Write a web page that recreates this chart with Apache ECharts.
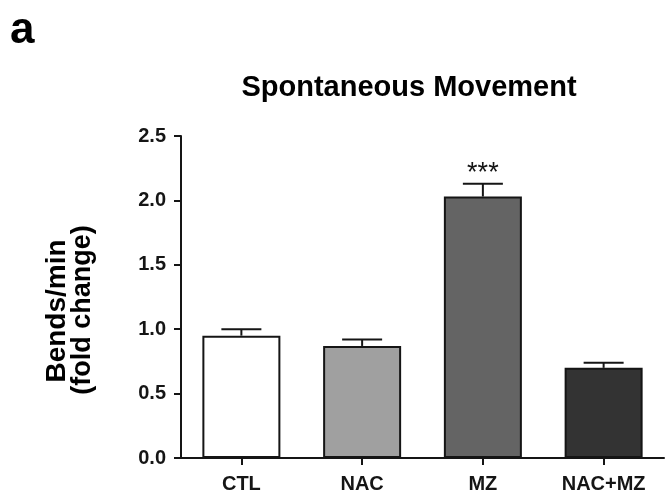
<!DOCTYPE html>
<html>
<head>
<meta charset="utf-8">
<script src="https://cdn.jsdelivr.net/npm/echarts@6/dist/echarts.min.js"></script>
<style>
  html, body { margin: 0; padding: 0; background: #ffffff; }
  #chart { width: 665px; height: 490px; }
</style>
</head>
<body>
<div id="chart"></div>
<script>
// Bends per minute, fold change relative to control
const categories = ['CTL', 'NAC', 'MZ', 'NAC+MZ'];
const means = [0.95, 0.87, 2.03, 0.70];
const sems = [0.05, 0.05, 0.10, 0.04];
const significance = ['', '', '***', ''];
const barFills = ['#ffffff', '#a0a0a0', '#646464', '#333333'];

const FONT = '"Liberation Sans", Arial, Helvetica, sans-serif';
const INK = '#151515';

const chart = echarts.init(document.getElementById('chart'), null, { renderer: 'canvas' });

const errorData = means.map((m, i) => [i, m, m + sems[i], significance[i]]);

chart.setOption({
  backgroundColor: '#ffffff',
  animation: false,
  grid: { left: 181, right: 1, top: 136, bottom: 32, containLabel: false, outerBoundsMode: 'none' },
  xAxis: {
    type: 'category',
    data: categories,
    axisLine: { show: true, lineStyle: { color: INK, width: 2 } },
    axisTick: { show: true, alignWithLabel: true, length: 7, lineStyle: { color: INK, width: 2 } },
    axisLabel: { color: INK, fontFamily: FONT, fontWeight: 'bold', fontSize: 20, margin: 16 },
    splitLine: { show: false }
  },
  yAxis: {
    type: 'value',
    min: 0,
    max: 2.5,
    interval: 0.5,
    axisLine: { show: true, lineStyle: { color: INK, width: 2 } },
    axisTick: { show: true, length: 7, lineStyle: { color: INK, width: 2 } },
    axisLabel: {
      color: INK, fontFamily: FONT, fontWeight: 'bold', fontSize: 20, margin: 15,
      formatter: v => v.toFixed(1)
    },
    splitLine: { show: false }
  },
  graphic: [
    {
      type: 'text', left: 10, top: 9,
      style: { text: 'a', font: 'bold 44px ' + FONT, fill: '#000' }
    },
    {
      type: 'text', x: 409, y: 88,
      style: { text: 'Spontaneous Movement', font: 'bold 29px ' + FONT, fill: '#000',
               textAlign: 'center', textVerticalAlign: 'middle' }
    },
    {
      type: 'text', x: 57, y: 311, rotation: Math.PI / 2,
      style: { text: 'Bends/min', font: 'bold 28px ' + FONT, fill: '#000',
               textAlign: 'center', textVerticalAlign: 'middle' }
    },
    {
      type: 'text', x: 83, y: 310, rotation: Math.PI / 2,
      style: { text: '(fold change)', font: 'bold 27px ' + FONT, fill: '#000',
               textAlign: 'center', textVerticalAlign: 'middle' }
    }
  ],
  series: [
    {
      type: 'bar',
      data: means.map((v, i) => ({ value: v, itemStyle: { color: barFills[i] } })),
      barWidth: 78,
      itemStyle: { borderColor: INK, borderWidth: 2 },
      z: 2
    },
    {
      type: 'custom',
      data: errorData,
      z: 3,
      renderItem: function (params, api) {
        const i = api.value(0);
        const base = api.coord([i, api.value(1)]);
        const top = api.coord([i, api.value(2)]);
        const half = 20;
        const style = { stroke: INK, lineWidth: 2 };
        const children = [
          { type: 'line', shape: { x1: base[0], y1: base[1], x2: top[0], y2: top[1] }, style: style },
          { type: 'line', shape: { x1: top[0] - half, y1: top[1], x2: top[0] + half, y2: top[1] }, style: style }
        ];
        const mark = significance[i];
        if (mark) {
          children.push({
            type: 'text',
            x: top[0], y: top[1] - 10,
            style: { text: mark, font: '27px ' + FONT, fill: INK,
                     textAlign: 'center', textVerticalAlign: 'middle' }
          });
        }
        return { type: 'group', children: children };
      }
    }
  ]
});
</script>
</body>
</html>
